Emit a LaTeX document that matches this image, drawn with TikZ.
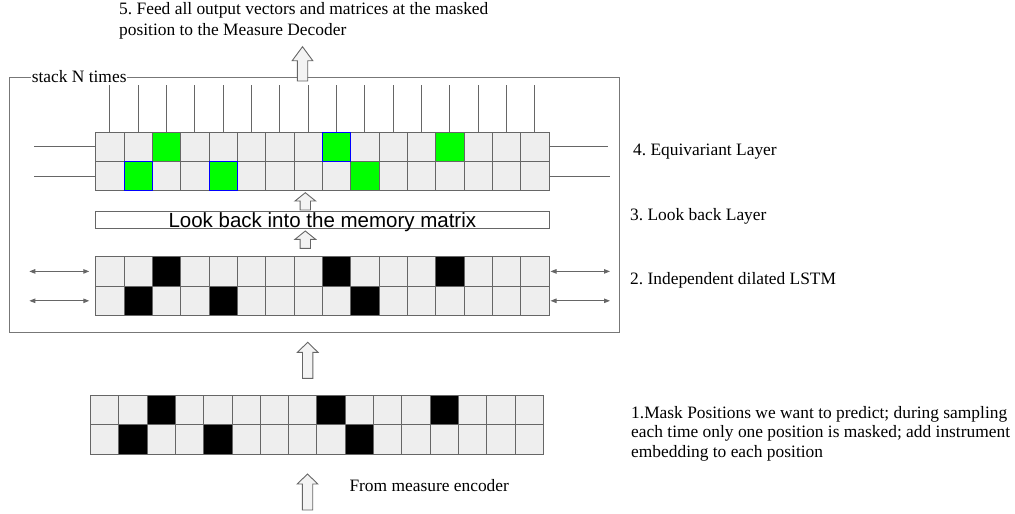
\documentclass[tikz,border=0pt]{standalone}
\usepackage{fontspec}
\setmainfont{Liberation Serif}
\newfontfamily\lookfont{Liberation Sans}
\usetikzlibrary{arrows.meta}
\definecolor{cellgray}{HTML}{EEEEEE}
\definecolor{edgegray}{HTML}{666666}
\definecolor{boxgray}{HTML}{777777}
\definecolor{maskgreen}{HTML}{00FF00}
\definecolor{maskblue}{HTML}{0000FF}
\definecolor{arrowfill}{HTML}{F3F3F3}
\tikzset{
	cell/.style={draw=edgegray, fill=cellgray, line width=0.9pt, minimum width=28.33pt, minimum height=29.4pt, inner sep=0pt, outer sep=0pt},
	wire/.style={draw=edgegray, line width=0.9pt},
	twoway/.style={draw=edgegray, line width=0.9pt, {Triangle[length=6pt,width=4.5pt]}-{Triangle[length=6pt,width=4.5pt]}},
	lbl/.style={font=\fontsize{17.4}{20.5}\selectfont\frenchspacing, inner sep=0pt, anchor=base west},
	pics/uparr/.style 2 args={code={
		\filldraw[draw=edgegray, fill=arrowfill, line width=0.9pt, line join=miter]
			(-5.2,0) -- (-5.2,-#1+#2) -- (-10.3,-#1+#2) -- (0,-#1) -- (10.3,-#1+#2) -- (5.2,-#1+#2) -- (5.2,0) -- cycle;
	}}
}

\begin{document}
\begin{tikzpicture}[x=1pt, y=-1pt]
	\useasboundingbox (0,0) rectangle (1015,514);
	\node[draw=boxgray, line width=0.9pt, minimum width=610.3pt, minimum height=254.6pt, inner sep=0pt] (stack) at (314.15,205) {};
	\node[lbl, fill=white, inner sep=0.6pt] (stacklbl) at (31,82) {stack N times};
	\foreach \c in {1,...,16}{
		\node[cell] (eq-1-\c) at ({95.7+28.33*(\c-0.5)},146.7) {};
		\node[cell] (eq-2-\c) at ({95.7+28.33*(\c-0.5)},176.1) {};
		\node[cell] (ls-1-\c) at ({95.7+28.33*(\c-0.5)},271.4) {};
		\node[cell] (ls-2-\c) at ({95.7+28.33*(\c-0.5)},300.8) {};
		\node[cell] (in-1-\c) at ({90.5+28.3*(\c-0.5)},410) {};
		\node[cell] (in-2-\c) at ({90.5+28.3*(\c-0.5)},439.5) {};
		\coordinate (out-\c) at (eq-1-\c.north |- 0,85);
		\draw[wire] (eq-1-\c.north) -- (out-\c);
	}
	\foreach \r/\c in {1/3,1/9,1/13,2/2,2/5,2/10}{
		\draw[edgegray, line width=0.9pt, fill=maskgreen] (eq-\r-\c.south west) rectangle (eq-\r-\c.north east);
		\draw[edgegray, line width=0.9pt, fill=black] (ls-\r-\c.south west) rectangle (ls-\r-\c.north east);
		\draw[edgegray, line width=0.9pt, fill=black] (in-\r-\c.south west) rectangle (in-\r-\c.north east);
	}
	\foreach \r/\c in {1/9,2/2,2/5}
		\draw[maskblue, line width=0.9pt] (eq-\r-\c.south west) rectangle (eq-\r-\c.north east);
	\coordinate (eqL1) at (34,146.7);
	\coordinate (eqL2) at (34,176.1);
	\coordinate (eqR1) at (607.7,146.7);
	\coordinate (eqR2) at (610,176.1);
	\draw[wire] (eqL1) -- (eq-1-1.west);
	\draw[wire] (eqL2) -- (eq-2-1.west);
	\draw[wire] (eq-1-16.east) -- (eqR1);
	\draw[wire] (eq-2-16.east) -- (eqR2);
	\coordinate (lsL1a) at (29.3,271.4);
	\coordinate (lsL1b) at (89.3,271.4);
	\coordinate (lsL2a) at (29.3,300.8);
	\coordinate (lsL2b) at (89.3,300.8);
	\coordinate (lsR1a) at (550.5,271.4);
	\coordinate (lsR1b) at (610,271.4);
	\coordinate (lsR2a) at (550.5,300.8);
	\coordinate (lsR2b) at (610,300.8);
	\draw[twoway] (lsL1a) -- (lsL1b);
	\draw[twoway] (lsL2a) -- (lsL2b);
	\draw[twoway] (lsR1a) -- (lsR1b);
	\draw[twoway] (lsR2a) -- (lsR2b);
	\node[draw=edgegray, line width=0.9pt, fill=white, minimum width=453.3pt, inner sep=0pt, text height=16.3pt, text depth=0.7pt, font=\lookfont\fontsize{20.5}{24}\selectfont] (look) at (322.35,219.5) {Look back into the memory matrix};
	\pic at (302.5,81) {uparr={34.3}{14}};
	\pic at (305.3,210) {uparr={17.3}{8.3}};
	\pic at (305.3,248.3) {uparr={17.3}{8.3}};
	\pic at (307.7,378.3) {uparr={36}{10}};
	\pic at (307.5,510) {uparr={36}{10}};
	\node[lbl, align=left] (feed) at (119,35) {5. Feed all output vectors and matrices at the masked\\position to the Measure Decoder};
	\node[lbl] (eqtxt) at (633,155) {4. Equivariant Layer};
	\node[lbl] (looktxt) at (630,220) {3. Look back Layer};
	\node[lbl] (lstmtxt) at (630,284) {2. Independent dilated LSTM};
	\node[lbl, align=left, font=\fontsize{17.4}{19.5}\selectfont\frenchspacing] (masktxt) at (631,457) {1.Mask Positions we want to predict; during sampling\\each time only one position is masked; add instrument\\embedding to each position};
	\node[lbl] (fromtxt) at (349.3,491.7) {From measure encoder};
\end{tikzpicture}
\end{document}
